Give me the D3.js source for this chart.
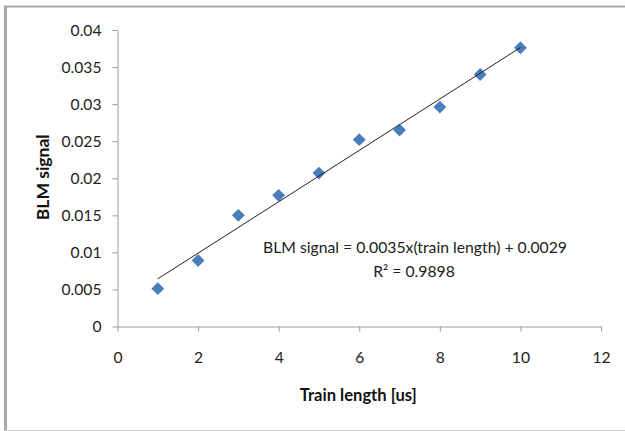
<!DOCTYPE html>
<html>
<head>
<meta charset="utf-8">
<script src="https://cdn.jsdelivr.net/npm/d3@7"></script>
<style>
  html, body { margin: 0; padding: 0; background: #fff; }
  svg { display: block; }
  text { font-family: Lato, "Open Sans", sans-serif; }
</style>
</head>
<body>
<svg id="chart" width="625" height="431"></svg>
<script>
// ---- data ----
const trainLength = [1, 2, 3, 4, 5, 6, 7, 8, 9, 10];
const blmSignal = [0.0051, 0.0089, 0.0150, 0.0177, 0.0207, 0.0252, 0.0265, 0.0296, 0.0340, 0.0376];
const xTicks = [0, 2, 4, 6, 8, 10, 12];
const yTicks = [0, 0.005, 0.01, 0.015, 0.02, 0.025, 0.03, 0.035, 0.04];
const yTickLabels = ["0", "0.005", "0.01", "0.015", "0.02", "0.025", "0.03", "0.035", "0.04"];
const xTitle = "Train length [us]";
const yTitle = "BLM signal";
const eqLine1 = "BLM signal = 0.0035x(train length) + 0.0029";
const eqLine2 = "R² = 0.9898";

const svg = d3.select("#chart");

// scale a text's font size so it spans a given width (fallback-font matching)
function fitWidth(sel, target) {
  const node = sel.node();
  const fs = parseFloat(sel.attr("font-size"));
  const w = node.getComputedTextLength();
  if (w > 0) sel.attr("font-size", (fs * target / w).toFixed(2));
  return sel;
}

// outer chart border (partially visible frame)
svg.append("line").attr("x1", 5.5).attr("x2", 5.5).attr("y1", 6).attr("y2", 431)
  .attr("stroke", "#a6a6a6").attr("stroke-width", 3);
svg.append("line").attr("x1", 4).attr("x2", 625).attr("y1", 6.5).attr("y2", 6.5)
  .attr("stroke", "#a6a6a6").attr("stroke-width", 2);
svg.append("line").attr("x1", 4).attr("x2", 625).attr("y1", 430.5).attr("y2", 430.5)
  .attr("stroke", "#d0d0d0").attr("stroke-width", 1);

const x = d3.scaleLinear().domain([0, 12]).range([117.5, 601]);
const y = d3.scaleLinear().domain([0, 0.04]).range([326.5, 30]);

// y axis
const yAxis = d3.axisLeft(y).tickValues(yTicks)
  .tickFormat((d, i) => yTickLabels[i]).tickSize(5).tickSizeOuter(0).tickPadding(11);
const gy = svg.append("g").attr("transform", `translate(${x(0)},0)`).call(yAxis);
gy.select(".domain").attr("stroke", "#9a9a9a");
gy.selectAll(".tick line").attr("stroke", "#9a9a9a");
gy.selectAll(".tick text").attr("font-size", 15).attr("fill", "#222")
  .style("font-family", "Lato, sans-serif");
// match width of widest label ("0.035" ≈ 40px)
{
  const t = gy.selectAll(".tick text").filter((d, i) => yTickLabels[i] === "0.035");
  const w = t.node().getComputedTextLength();
  const fs = 15 * 40 / w;
  gy.selectAll(".tick text").attr("font-size", fs.toFixed(2));
}

// x axis
const xAxis = d3.axisBottom(x).tickValues(xTicks).tickSize(5).tickSizeOuter(0).tickPadding(20);
const gx = svg.append("g").attr("transform", `translate(0,${y(0)})`).call(xAxis);
gx.select(".domain").attr("stroke", "#9a9a9a");
gx.selectAll(".tick line").attr("stroke", "#9a9a9a");
gx.selectAll(".tick text").attr("font-size", gy.select(".tick text").attr("font-size")).attr("fill", "#222")
  .style("font-family", "Lato, sans-serif");

// axis titles
fitWidth(svg.append("text").attr("x", (x(0) + x(12)) / 2 - 1).attr("y", 401)
  .attr("text-anchor", "middle").attr("font-size", 15).attr("font-weight", "bold")
  .attr("fill", "#111").text(xTitle), 117);
fitWidth(svg.append("text")
  .attr("transform", `translate(49,${(y(0) + y(0.04)) / 2 - 1}) rotate(-90)`)
  .attr("text-anchor", "middle").attr("font-size", 15).attr("font-weight", "bold")
  .attr("fill", "#111").text(yTitle), 86);

// markers
const diamond = d3.symbol().type(d3.symbolDiamond2).size(105);
svg.append("g").selectAll("path").data(trainLength).join("path")
  .attr("d", diamond)
  .attr("transform", (d, i) => `translate(${x(d)},${y(blmSignal[i])})`)
  .attr("fill", "#4a7ebb");

// linear trend line (least squares from the data)
const n = trainLength.length;
const mx = d3.mean(trainLength), my = d3.mean(blmSignal);
let sxy = 0, sxx = 0;
for (let i = 0; i < n; i++) {
  sxy += (trainLength[i] - mx) * (blmSignal[i] - my);
  sxx += (trainLength[i] - mx) ** 2;
}
const slope = sxy / sxx, intercept = my - slope * mx;
const x0 = d3.min(trainLength), x1 = d3.max(trainLength);
svg.append("line")
  .attr("x1", x(x0)).attr("y1", y(intercept + slope * x0))
  .attr("x2", x(x1)).attr("y2", y(intercept + slope * x1))
  .attr("stroke", "#222").attr("stroke-width", 1);

// equation text
const eq1 = fitWidth(svg.append("text").attr("x", 415).attr("y", 253).attr("text-anchor", "middle")
  .attr("font-size", 15).attr("fill", "#222").text(eqLine1), 304);
svg.append("text").attr("x", 414).attr("y", 277).attr("text-anchor", "middle")
  .attr("font-size", eq1.attr("font-size")).attr("fill", "#222").text(eqLine2);
</script>
</body>
</html>
